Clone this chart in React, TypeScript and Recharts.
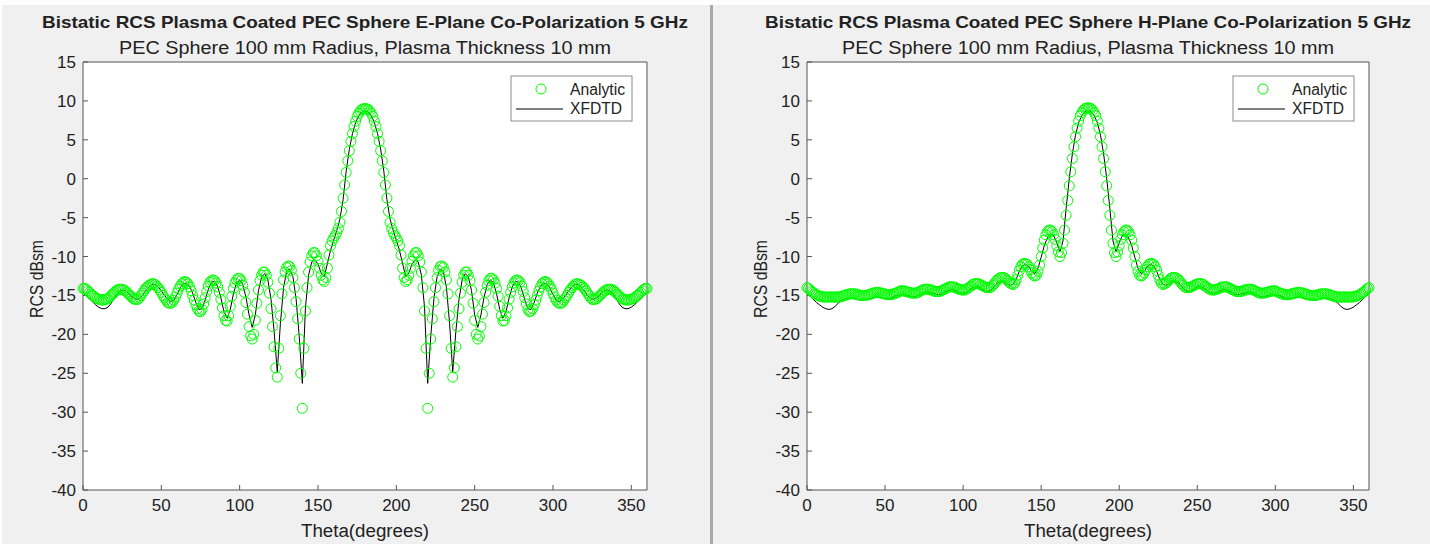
import { ComposedChart, Line, Scatter, XAxis, YAxis } from 'recharts';

// theta grids: analytic solution every 1 deg, XFDTD every 2 deg
const thetaAnalytic = Array.from({ length: 361 }, (_, i) => i);
const thetaXfdtd = Array.from({ length: 181 }, (_, i) => i * 2);

const xTicks = [0, 50, 100, 150, 200, 250, 300, 350];
const yTicks = [-40, -35, -30, -25, -20, -15, -10, -5, 0, 5, 10, 15];

// E-plane, analytic (dBsm), 0..360 deg
const eAnalytic = [
  -14.1, -14.1, -14.2, -14.4, -14.6, -14.8, -15.0, -15.1, -15.3, -15.4,
  -15.5, -15.5, -15.6, -15.6, -15.5, -15.5, -15.4, -15.2, -15.0, -14.8,
  -14.6, -14.4, -14.3, -14.2, -14.2, -14.2, -14.3, -14.4, -14.6, -14.8,
  -15.0, -15.2, -15.4, -15.5, -15.5, -15.5, -15.3, -15.0, -14.7, -14.4,
  -14.1, -13.9, -13.7, -13.6, -13.5, -13.5, -13.6, -13.8, -14.0, -14.3,
  -14.6, -15.0, -15.3, -15.6, -15.9, -16.0, -16.0, -15.9, -15.6, -15.2,
  -14.7, -14.2, -13.8, -13.5, -13.3, -13.2, -13.3, -13.5, -13.9, -14.4,
  -15.0, -15.6, -16.2, -16.7, -17.0, -17.1, -16.8, -16.1, -15.3, -14.5,
  -13.8, -13.3, -13.1, -13.0, -13.1, -13.4, -13.9, -14.6, -15.5, -16.6,
  -17.6, -18.2, -18.3, -17.6, -16.4, -15.1, -14.1, -13.4, -13.0, -12.8,
  -12.8, -13.1, -13.7, -14.6, -15.9, -17.4, -19.0, -20.2, -20.6, -20.0,
  -18.2, -16.0, -14.3, -13.1, -12.4, -12.0, -12.0, -12.4, -13.3, -14.7,
  -16.7, -19.0, -21.6, -24.3, -25.5, -21.8, -17.6, -14.8, -13.0, -12.0,
  -11.4, -11.2, -11.3, -11.8, -12.7, -14.0, -15.8, -18.0, -20.6, -25.0,
  -29.5, -21.8, -17.0, -14.0, -12.0, -10.7, -9.9, -9.5, -9.5, -9.9,
  -10.6, -11.5, -12.4, -13.0, -13.2, -12.7, -11.5, -9.8, -8.6, -8.0,
  -7.6, -7.3, -6.9, -6.4, -5.6, -4.2, -2.5, -0.8, 0.8, 2.3,
  3.6, 4.8, 5.8, 6.7, 7.4, 8.0, 8.4, 8.7, 8.9, 9.0,
  9.0, 9.0, 8.9, 8.7, 8.4, 8.0, 7.4, 6.7, 5.8, 4.8,
  3.6, 2.3, 0.8, -0.8, -2.5, -4.2, -5.6, -6.4, -6.9, -7.3,
  -7.6, -8.0, -8.6, -9.8, -11.5, -12.7, -13.2, -13.0, -12.4, -11.5,
  -10.6, -9.9, -9.5, -9.5, -9.9, -10.7, -12.0, -14.0, -17.0, -21.8,
  -29.5, -25.0, -20.6, -18.0, -15.8, -14.0, -12.7, -11.8, -11.3, -11.2,
  -11.4, -12.0, -13.0, -14.8, -17.6, -21.8, -25.5, -24.3, -21.6, -19.0,
  -16.7, -14.7, -13.3, -12.4, -12.0, -12.0, -12.4, -13.1, -14.3, -16.0,
  -18.2, -20.0, -20.6, -20.2, -19.0, -17.4, -15.9, -14.6, -13.7, -13.1,
  -12.8, -12.8, -13.0, -13.4, -14.1, -15.1, -16.4, -17.6, -18.3, -18.2,
  -17.6, -16.6, -15.5, -14.6, -13.9, -13.4, -13.1, -13.0, -13.1, -13.3,
  -13.8, -14.5, -15.3, -16.1, -16.8, -17.1, -17.0, -16.7, -16.2, -15.6,
  -15.0, -14.4, -13.9, -13.5, -13.3, -13.2, -13.3, -13.5, -13.8, -14.2,
  -14.7, -15.2, -15.6, -15.9, -16.0, -16.0, -15.9, -15.6, -15.3, -15.0,
  -14.6, -14.3, -14.0, -13.8, -13.6, -13.5, -13.5, -13.6, -13.7, -13.9,
  -14.1, -14.4, -14.7, -15.0, -15.3, -15.5, -15.5, -15.5, -15.4, -15.2,
  -15.0, -14.8, -14.6, -14.4, -14.3, -14.2, -14.2, -14.2, -14.3, -14.4,
  -14.6, -14.8, -15.0, -15.2, -15.4, -15.5, -15.5, -15.6, -15.6, -15.5,
  -15.5, -15.4, -15.3, -15.1, -15.0, -14.8, -14.6, -14.4, -14.2, -14.1,
  -14.1,
];

// E-plane, XFDTD (dBsm), 0..360 deg step 2
const eXfdtd = [
  -14.7, -15.0, -15.4, -15.8, -16.2, -16.5, -16.7, -16.7, -16.5, -16.0,
  -15.3, -14.7, -14.4, -14.3, -14.5, -14.9, -15.3, -15.5, -15.4, -15.0,
  -14.4, -13.9, -13.6, -13.6, -13.9, -14.4, -15.0, -15.5, -15.8, -15.6,
  -14.9, -14.0, -13.5, -13.4, -13.8, -14.7, -15.9, -16.8, -16.7, -15.6,
  -14.2, -13.3, -13.2, -13.9, -15.3, -17.1, -17.9, -16.8, -14.8, -13.4,
  -13.0, -13.6, -15.2, -17.5, -19.1, -17.5, -14.4, -12.6, -12.2, -13.0,
  -15.5, -19.6, -24.8, -18.6, -14.0, -11.9, -11.6, -12.6, -15.4, -20.2,
  -26.3, -16.5, -12.4, -10.7, -10.4, -11.0, -12.1, -12.6, -10.9, -9.2,
  -7.9, -6.6, -5.2, -2.7, 1.0, 3.8, 5.8, 7.2, 8.1, 8.6,
  8.7, 8.6, 8.1, 7.2, 5.8, 3.8, 1.0, -2.7, -5.2, -6.6,
  -7.9, -9.2, -10.9, -12.6, -12.1, -11.0, -10.4, -10.7, -12.4, -16.5,
  -26.3, -20.2, -15.4, -12.6, -11.6, -11.9, -14.0, -18.6, -24.8, -19.6,
  -15.5, -13.0, -12.2, -12.6, -14.4, -17.5, -19.1, -17.5, -15.2, -13.6,
  -13.0, -13.4, -14.8, -16.8, -17.9, -17.1, -15.3, -13.9, -13.2, -13.3,
  -14.2, -15.6, -16.7, -16.8, -15.9, -14.7, -13.8, -13.4, -13.5, -14.0,
  -14.9, -15.6, -15.8, -15.5, -15.0, -14.4, -13.9, -13.6, -13.6, -13.9,
  -14.4, -15.0, -15.4, -15.5, -15.3, -14.9, -14.5, -14.3, -14.4, -14.7,
  -15.3, -16.0, -16.5, -16.7, -16.7, -16.5, -16.2, -15.8, -15.4, -15.0,
  -14.7,
];

// H-plane, analytic (dBsm), 0..360 deg
const hAnalytic = [
  -14.0, -14.1, -14.3, -14.5, -14.6, -14.8, -14.9, -15.0, -15.1, -15.1,
  -15.2, -15.2, -15.2, -15.2, -15.2, -15.2, -15.2, -15.2, -15.2, -15.2,
  -15.2, -15.2, -15.1, -15.1, -15.0, -14.9, -14.9, -14.8, -14.8, -14.8,
  -14.8, -14.8, -14.9, -14.9, -15.0, -15.0, -15.0, -15.0, -15.0, -14.9,
  -14.9, -14.8, -14.7, -14.7, -14.6, -14.6, -14.6, -14.7, -14.7, -14.8,
  -14.8, -14.9, -14.9, -14.9, -14.9, -14.8, -14.8, -14.7, -14.6, -14.5,
  -14.4, -14.4, -14.4, -14.5, -14.5, -14.6, -14.6, -14.7, -14.7, -14.7,
  -14.7, -14.6, -14.5, -14.4, -14.3, -14.2, -14.2, -14.2, -14.2, -14.3,
  -14.3, -14.4, -14.5, -14.5, -14.5, -14.5, -14.4, -14.3, -14.2, -14.1,
  -14.0, -13.9, -13.9, -13.9, -13.9, -14.0, -14.1, -14.2, -14.2, -14.3,
  -14.3, -14.3, -14.2, -14.1, -13.9, -13.8, -13.6, -13.5, -13.5, -13.5,
  -13.5, -13.6, -13.7, -13.8, -13.9, -14.0, -14.0, -14.0, -13.9, -13.7,
  -13.5, -13.2, -13.0, -12.8, -12.7, -12.7, -12.7, -12.8, -13.0, -13.2,
  -13.4, -13.5, -13.6, -13.4, -13.0, -12.4, -11.8, -11.3, -11.0, -10.9,
  -10.9, -11.0, -11.3, -11.7, -12.1, -12.4, -12.5, -12.4, -11.9, -11.1,
  -10.0, -8.9, -7.9, -7.2, -6.8, -6.6, -6.6, -6.8, -7.2, -7.8,
  -8.6, -9.4, -10.0, -9.5, -8.3, -6.6, -4.7, -2.8, -0.9, 0.9,
  2.6, 4.1, 5.4, 6.5, 7.4, 8.1, 8.5, 8.8, 9.0, 9.1,
  9.1, 9.1, 9.0, 8.8, 8.5, 8.1, 7.4, 6.5, 5.4, 4.1,
  2.6, 0.9, -0.9, -2.8, -4.7, -6.6, -8.3, -9.5, -10.0, -9.4,
  -8.6, -7.8, -7.2, -6.8, -6.6, -6.6, -6.8, -7.2, -7.9, -8.9,
  -10.0, -11.1, -11.9, -12.4, -12.5, -12.4, -12.1, -11.7, -11.3, -11.0,
  -10.9, -10.9, -11.0, -11.3, -11.8, -12.4, -13.0, -13.4, -13.6, -13.5,
  -13.4, -13.2, -13.0, -12.8, -12.7, -12.7, -12.7, -12.8, -13.0, -13.2,
  -13.5, -13.7, -13.9, -14.0, -14.0, -14.0, -13.9, -13.8, -13.7, -13.6,
  -13.5, -13.5, -13.5, -13.5, -13.6, -13.8, -13.9, -14.1, -14.2, -14.3,
  -14.3, -14.3, -14.2, -14.2, -14.1, -14.0, -13.9, -13.9, -13.9, -13.9,
  -14.0, -14.1, -14.2, -14.3, -14.4, -14.5, -14.5, -14.5, -14.5, -14.4,
  -14.3, -14.3, -14.2, -14.2, -14.2, -14.2, -14.3, -14.4, -14.5, -14.6,
  -14.7, -14.7, -14.7, -14.7, -14.6, -14.6, -14.5, -14.5, -14.4, -14.4,
  -14.4, -14.5, -14.6, -14.7, -14.8, -14.8, -14.9, -14.9, -14.9, -14.9,
  -14.8, -14.8, -14.7, -14.7, -14.6, -14.6, -14.6, -14.7, -14.7, -14.8,
  -14.9, -14.9, -15.0, -15.0, -15.0, -15.0, -15.0, -14.9, -14.9, -14.8,
  -14.8, -14.8, -14.8, -14.8, -14.9, -14.9, -15.0, -15.1, -15.1, -15.2,
  -15.2, -15.2, -15.2, -15.2, -15.2, -15.2, -15.2, -15.2, -15.2, -15.2,
  -15.2, -15.1, -15.1, -15.0, -14.9, -14.8, -14.6, -14.5, -14.3, -14.1,
  -14.0,
];

// H-plane, XFDTD (dBsm), 0..360 deg step 2
const hXfdtd = [
  -14.8, -15.1, -15.5, -15.9, -16.2, -16.5, -16.7, -16.8, -16.7, -16.4,
  -16.0, -15.7, -15.5, -15.4, -15.3, -15.4, -15.5, -15.6, -15.6, -15.5,
  -15.4, -15.3, -15.2, -15.2, -15.3, -15.4, -15.4, -15.3, -15.1, -15.0,
  -14.9, -14.9, -15.0, -15.1, -15.2, -15.1, -14.9, -14.7, -14.6, -14.6,
  -14.7, -14.8, -14.9, -14.8, -14.6, -14.4, -14.3, -14.3, -14.5, -14.7,
  -14.7, -14.6, -14.3, -14.0, -13.8, -13.9, -14.2, -14.4, -14.5, -14.3,
  -13.8, -13.4, -13.2, -13.2, -13.5, -13.7, -13.6, -12.9, -11.9, -11.2,
  -11.0, -11.3, -11.9, -12.2, -11.5, -10.1, -8.6, -7.6, -7.1, -7.3,
  -8.2, -9.4, -8.0, -3.8, 0.0, 3.2, 5.6, 7.2, 8.1, 8.6,
  8.7, 8.6, 8.1, 7.2, 5.6, 3.2, 0.0, -3.8, -8.0, -9.4,
  -8.2, -7.3, -7.1, -7.6, -8.6, -10.1, -11.5, -12.2, -11.9, -11.3,
  -11.0, -11.2, -11.9, -12.9, -13.6, -13.7, -13.5, -13.2, -13.2, -13.4,
  -13.8, -14.3, -14.5, -14.4, -14.2, -13.9, -13.8, -14.0, -14.3, -14.6,
  -14.7, -14.7, -14.5, -14.3, -14.3, -14.4, -14.6, -14.8, -14.9, -14.8,
  -14.7, -14.6, -14.6, -14.7, -14.9, -15.1, -15.2, -15.1, -15.0, -14.9,
  -14.9, -15.0, -15.1, -15.3, -15.4, -15.4, -15.3, -15.2, -15.2, -15.3,
  -15.4, -15.5, -15.6, -15.6, -15.5, -15.4, -15.3, -15.4, -15.5, -15.7,
  -16.0, -16.4, -16.7, -16.8, -16.7, -16.5, -16.2, -15.9, -15.5, -15.1,
  -14.8,
];

const FIG_BG = '#f0f0f0';
const AXIS_COLOR = '#555555';
const TEXT_COLOR = '#222222';
const GREEN = '#00ff00';
const FONT = '"Liberation Sans", Arial, Helvetica, sans-serif';

const tickStyle = { fill: TEXT_COLOR, fontSize: 17, fontFamily: FONT };

const ring = (props: any) => (
  <circle cx={props.cx} cy={props.cy} r={5} fill="none" stroke={GREEN} strokeWidth={1} />
);

interface PanelProps {
  left: number;
  plotW: number;
  title: string;
  subtitle: string;
  analytic: number[];
  xfdtd: number[];
}

// plot area starts 83px in from the panel's left edge, 62px from the top, ends at y=490
const Panel = ({ left, plotW, title, subtitle, analytic, xfdtd }: PanelProps) => {
  const width = plotW + 143;
  const plotLeft = 83;
  const plotRight = plotLeft + plotW;
  const mid = plotLeft + plotW / 2;
  const points = thetaAnalytic.map((t, i) => ({ theta: t, rcs: analytic[i] }));
  const line = thetaXfdtd.map((t, i) => ({ theta: t, rcs: xfdtd[i] }));
  const lg = plotRight - 136;

  return (
    <div style={{ position: 'absolute', left, top: 0, width, height: 544 }}>
      <div style={{ position: 'absolute', left: plotLeft, top: 62, width: plotW, height: 428, background: '#fff' }} />
      <div style={{ position: 'absolute', left: 0, top: 0 }}>
        <ComposedChart width={width} height={544} margin={{ top: 61, right: 59, bottom: 24, left: 33 }}>
          <XAxis xAxisId="b" dataKey="theta" type="number" domain={[0, 360]} ticks={xTicks} interval={0}
            height={30} tickSize={-5} tickMargin={14} stroke={AXIS_COLOR} tick={tickStyle} />
          <XAxis xAxisId="t" orientation="top" dataKey="theta" type="number" domain={[0, 360]} ticks={xTicks}
            interval={0} height={1} tickSize={-5} tickFormatter={() => ''} stroke={AXIS_COLOR} />
          <YAxis yAxisId="l" type="number" domain={[-40, 15]} ticks={yTicks} interval={0}
            width={50} tickSize={-5} tickMargin={12} stroke={AXIS_COLOR} tick={tickStyle} />
          <YAxis yAxisId="r" orientation="right" type="number" domain={[-40, 15]} ticks={yTicks} interval={0}
            width={1} tickSize={-5} tickFormatter={() => ''} stroke={AXIS_COLOR} />
          <Scatter xAxisId="b" yAxisId="l" name="Analytic" data={points} dataKey="rcs" shape={ring}
            isAnimationActive={false} />
          <Line xAxisId="b" yAxisId="l" name="XFDTD" data={line} dataKey="rcs" type="linear" stroke="#000"
            strokeWidth={1} dot={false} activeDot={false} isAnimationActive={false} />
        </ComposedChart>
      </div>
      <svg width={width} height={544} style={{ position: 'absolute', left: 0, top: 0, pointerEvents: 'none' }}
        fontFamily={FONT} fill={TEXT_COLOR}>
        <text x={mid} y={28} textAnchor="middle" fontSize={17} fontWeight="bold" textLength={646}
          lengthAdjust="spacingAndGlyphs">{title}</text>
        <text x={mid} y={54} textAnchor="middle" fontSize={18} textLength={492}
          lengthAdjust="spacingAndGlyphs">{subtitle}</text>
        <text x={mid} y={537} textAnchor="middle" fontSize={18} textLength={128}
          lengthAdjust="spacingAndGlyphs">Theta(degrees)</text>
        <text x={43} y={279} textAnchor="middle" fontSize={18} textLength={78} lengthAdjust="spacingAndGlyphs"
          transform="rotate(-90 43 279)">RCS dBsm</text>
        <rect x={lg} y={76} width={121} height={45} fill="#fff" stroke="#8c8c8c" strokeWidth={1} />
        <circle cx={lg + 30} cy={89} r={5} fill="none" stroke={GREEN} strokeWidth={1} />
        <line x1={lg + 5} y1={109} x2={lg + 52} y2={109} stroke="#000" strokeWidth={1} />
        <text x={lg + 59} y={95} fontSize={16} textLength={55} lengthAdjust="spacingAndGlyphs">Analytic</text>
        <text x={lg + 59} y={114} fontSize={16} textLength={52} lengthAdjust="spacingAndGlyphs">XFDTD</text>
      </svg>
    </div>
  );
};

export default function App() {
  return (
    <div style={{ position: 'fixed', left: 0, top: 0, width: 1430, height: 544, background: '#fff', overflow: 'hidden' }}>
      <div style={{ position: 'absolute', left: 2, top: 5, width: 708, height: 539, background: FIG_BG }} />
      <div style={{ position: 'absolute', left: 710, top: 5, width: 3, height: 539, background: '#a9a9a9' }} />
      <div style={{ position: 'absolute', left: 713, top: 5, width: 717, height: 539, background: FIG_BG }} />
      <Panel left={0} plotW={564}
        title="Bistatic RCS Plasma Coated PEC Sphere E-Plane Co-Polarization 5 GHz"
        subtitle="PEC Sphere 100 mm Radius, Plasma Thickness 10 mm"
        analytic={eAnalytic} xfdtd={eXfdtd} />
      <Panel left={724} plotW={562}
        title="Bistatic RCS Plasma Coated PEC Sphere H-Plane Co-Polarization 5 GHz"
        subtitle="PEC Sphere 100 mm Radius, Plasma Thickness 10 mm"
        analytic={hAnalytic} xfdtd={hXfdtd} />
    </div>
  );
}
